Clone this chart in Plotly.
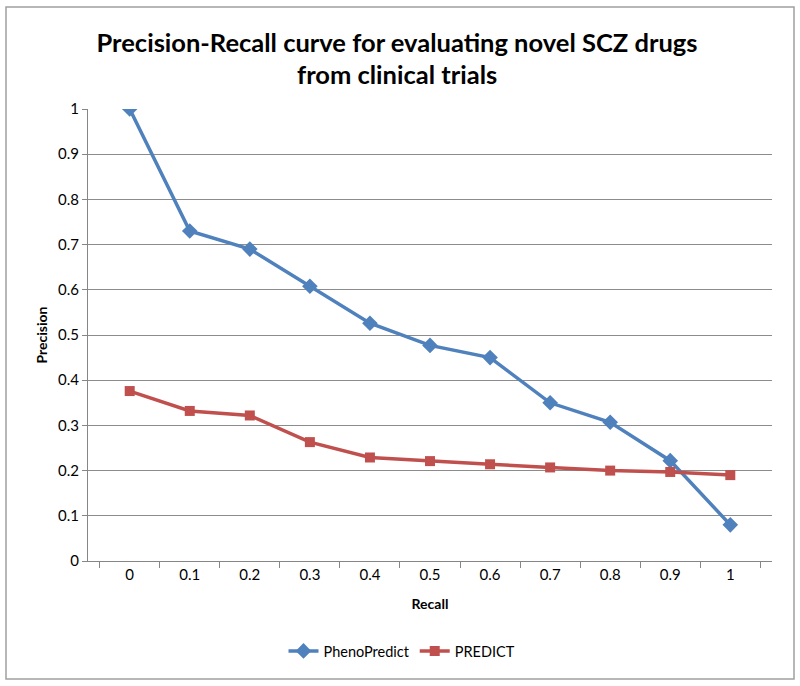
import plotly.graph_objects as go

recall = ["0", "0.1", "0.2", "0.3", "0.4", "0.5", "0.6", "0.7", "0.8", "0.9", "1"]
pheno_predict = [1.0, 0.730, 0.690, 0.608, 0.526, 0.477, 0.450, 0.350, 0.307, 0.222, 0.080]
predict = [0.376, 0.332, 0.322, 0.263, 0.229, 0.221, 0.214, 0.207, 0.200, 0.197, 0.190]

title_line1 = "Precision-Recall curve for evaluating novel SCZ drugs"
title_line2 = "from clinical trials"

FONT = "Lato, Carlito, Calibri, sans-serif"
L, R, T, B = 88, 28, 109, 125
W, H = 800, 686
pw, ph = W - L - R, H - T - B

def px(xp):
    return (xp - L) / pw

def py(yp):
    return (H - B - yp) / ph

fig = go.Figure()
fig.add_trace(go.Scatter(
    x=recall, y=pheno_predict, name="PhenoPredict", mode="lines+markers",
    line=dict(color="#4F81BD", width=3.5),
    marker=dict(symbol="diamond", size=12, color="#4F81BD"),
))
fig.add_trace(go.Scatter(
    x=recall, y=predict, name="PREDICT", mode="lines+markers",
    line=dict(color="#C0504D", width=3.5),
    marker=dict(symbol="square", size=10, color="#C0504D"),
))

fig.update_layout(
    width=W, height=H,
    margin=dict(l=L, r=R, t=T, b=B),
    paper_bgcolor="white", plot_bgcolor="white",
    font=dict(family=FONT, size=15, color="black"),
    title=dict(
        text="<b>" + title_line1 + "</b>",
        x=397 / W, xanchor="center", y=1 - 43 / H, yanchor="middle",
        font=dict(size=25.5, family=FONT),
    ),
    annotations=[dict(
        text="<b>" + title_line2 + "</b>", xref="paper", yref="paper",
        x=px(397), y=py(74), xanchor="center", yanchor="middle",
        showarrow=False, font=dict(size=25.5, family=FONT),
    )],
    xaxis=dict(
        type="category", tickson="boundaries", ticks="outside", ticklen=6,
        tickcolor="#868686", showline=True, linecolor="#868686", linewidth=1,
        showgrid=False, tickfont=dict(size=15),
        title=dict(text="<b>Recall</b>", font=dict(size=14), standoff=17),
    ),
    yaxis=dict(
        range=[0, 1], dtick=0.1, ticks="outside", ticklen=5, tickcolor="#868686",
        showline=True, linecolor="#868686", linewidth=1,
        showgrid=True, gridcolor="#8C8C8C", gridwidth=1, zeroline=False,
        tickfont=dict(size=15),
        title=dict(text="<b>Precision</b>", font=dict(size=14), standoff=7),
    ),
    legend=dict(
        orientation="h", x=px(402), xanchor="center", y=py(651), yanchor="middle",
        font=dict(size=14.5), bgcolor="rgba(0,0,0,0)",
    ),
    shapes=[dict(
        type="rect", xref="paper", yref="paper",
        x0=px(6), x1=px(794), y0=py(679), y1=py(7),
        line=dict(color="#A0A0A0", width=1.5), fillcolor="rgba(0,0,0,0)", layer="below",
    )],
)

fig.write_html(
    "out.html",
    config={"displayModeBar": False},
    post_script="document.body.style.margin='0';document.body.style.padding='0';",
)
